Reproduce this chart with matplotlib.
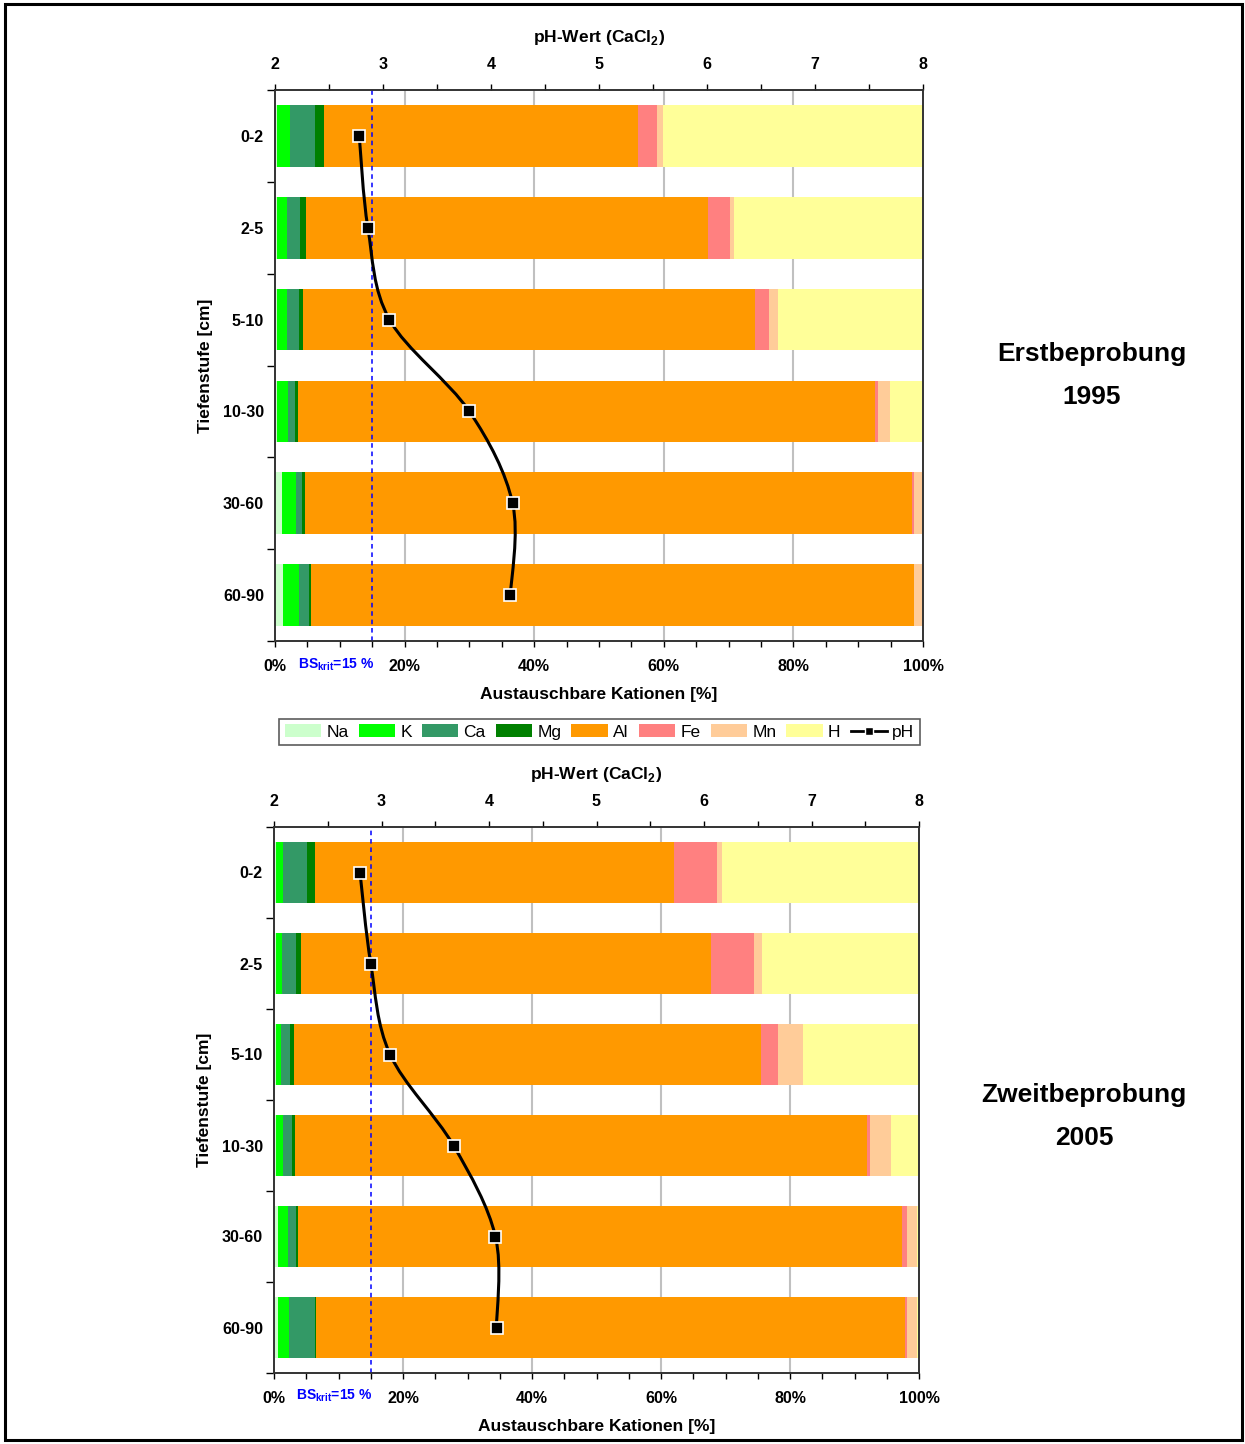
import matplotlib
matplotlib.use('Agg')
import matplotlib.pyplot as plt
from matplotlib.path import Path
from matplotlib.patches import PathPatch, Patch, Rectangle
from matplotlib.lines import Line2D
import numpy as np

plt.rcParams['font.family'] = ['Liberation Sans', 'DejaVu Sans']
plt.rcParams['mathtext.fontset'] = 'custom'
plt.rcParams['mathtext.rm'] = 'Liberation Sans'
plt.rcParams['mathtext.bf'] = 'Liberation Sans:bold'

# Tiefenstufen
depths = ['0-2', '2-5', '5-10', '10-30', '30-60', '60-90']
cations = ['Na', 'K', 'Ca', 'Mg', 'Al', 'Fe', 'Mn', 'H']
colors = ['#CCFFCC', '#00FF00', '#339966', '#008000', '#FF9900', '#FF8080', '#FFCC99', '#FFFF99']

# Erstbeprobung 1995 (% der Austauschkapazitaet)
na_95 = [0.3, 0.3, 0.3, 0.35, 1.1, 1.2]
k_95 = [2.0, 1.6, 1.6, 1.65, 2.15, 2.5]
ca_95 = [3.9, 2.0, 1.85, 1.1, 0.95, 1.55]
mg_95 = [1.4, 0.9, 0.6, 0.45, 0.45, 0.3]
al_95 = [48.4, 62.0, 69.8, 89.1, 93.7, 93.0]
fe_95 = [3.0, 3.4, 2.1, 0.4, 0.3, 0.05]
mn_95 = [0.9, 0.6, 1.4, 1.8, 1.35, 1.4]
h_95 = [40.1, 29.2, 22.35, 5.15, 0.0, 0.0]
ph_95 = [2.78, 2.86, 3.06, 3.80, 4.20, 4.18]

# Zweitbeprobung 2005
na_05 = [0.3, 0.3, 0.3, 0.3, 0.6, 0.6]
k_05 = [1.1, 0.95, 0.8, 1.1, 1.55, 1.7]
ca_05 = [3.7, 2.15, 1.4, 1.4, 1.25, 4.05]
mg_05 = [1.25, 0.8, 0.6, 0.45, 0.3, 0.15]
al_05 = [55.6, 63.55, 72.45, 88.75, 93.6, 91.4]
fe_05 = [6.7, 6.65, 2.6, 0.4, 0.8, 0.2]
mn_05 = [0.8, 1.3, 3.9, 3.3, 1.6, 1.6]
h_05 = [30.55, 24.3, 17.95, 4.3, 0.3, 0.3]
ph_05 = [2.80, 2.90, 3.08, 3.67, 4.06, 4.07]

bs_krit = 15

W, H = 1245, 1444
fig = plt.figure(figsize=(W/100, H/100), dpi=100)


def smooth_path(xs, ys, sx, sy):
 # catmull-rom -> bezier, in pixel-like scale
 px = np.array(xs)*sx
 py = np.array(ys)*sy
 n = len(px)
 verts = [(px[0], py[0])]
 codes = [Path.MOVETO]
 for i in range(n-1):
  i0 = max(i-1, 0)
  i3 = min(i+2, n-1)
  c1 = (px[i] + (px[i+1]-px[i0])/6.0, py[i] + (py[i+1]-py[i0])/6.0)
  c2 = (px[i+1] - (px[i3]-px[i])/6.0, py[i+1] - (py[i3]-py[i])/6.0)
  verts += [c1, c2, (px[i+1], py[i+1])]
  codes += [Path.CURVE4]*3
 verts = [(v[0]/sx, v[1]/sy) for v in verts]
 return Path(verts, codes)


def draw_panel(rect, series, ph, title1, title2, tx, ty, bs_off):
 ax = fig.add_axes(rect)
 y = np.arange(len(depths))
 left = np.zeros(len(depths))
 for vals, c in zip(series, colors):
  ax.barh(y, vals, left=left, height=0.67, color=c, edgecolor='none', zorder=2)
  left = left + np.array(vals)
 ax.set_xlim(0, 100)
 ax.set_ylim(len(depths)-0.5, -0.5)
 for g in [20, 40, 60, 80]:
  ax.axvline(g, color='#c0c0c0', lw=1.5, zorder=1)
 ax.axvline(bs_krit, color='#0000ff', lw=1.1, ls=(0, (3, 2.5)), zorder=3)
 ax.set_xticks([0, 20, 40, 60, 80, 100])
 ax.set_xticklabels(['0%', '20%', '40%', '60%', '80%', '100%'], fontweight='bold', fontsize=11.5)
 ax.set_xticks(np.arange(0, 101, 5), minor=True)
 ax.tick_params(axis='x', which='both', direction='out', length=4, width=1, pad=9)
 ax.set_yticks(np.arange(-0.5, len(depths), 1))
 ax.set_yticklabels([])
 ax.set_yticks(y, minor=True)
 ax.set_yticklabels(depths, minor=True, fontweight='bold', fontsize=11.5)
 ax.tick_params(axis='y', which='major', direction='out', length=6, width=1)
 ax.tick_params(axis='y', which='minor', length=0, pad=8)
 for s in ax.spines.values():
  s.set_linewidth(1.2)
  s.set_color('#333333')
 ax.set_xlabel('Austauschbare Kationen [%]', fontweight='bold', fontsize=12.5, labelpad=9)
 ax.set_ylabel('Tiefenstufe [cm]', fontweight='bold', fontsize=12.5, labelpad=7)
 ax.text(bs_krit+0.3, -bs_off, 'BS$_{\\mathbf{krit}}$=15 %', transform=ax.get_xaxis_transform(),
  ha='right', va='center', color='#0000ff', fontweight='bold', fontsize=10)

 # pH curve on top axis
 ax2 = ax.twiny()
 ax2.set_xlim(2, 8)
 ax2.set_xticks(np.arange(2, 9, 1))
 ax2.set_xticklabels([str(v) for v in range(2, 9)], fontweight='bold', fontsize=11.5)
 ax2.set_xticks(np.arange(2, 8.01, 0.5), minor=True)
 ax2.tick_params(axis='x', which='both', direction='out', length=4, width=1, pad=9)
 for s in ax2.spines.values():
  s.set_linewidth(1.2)
  s.set_color('#333333')
 ax2.set_xlabel('pH-Wert (CaCl$_{\\mathbf{2}}$)', fontweight='bold', fontsize=12.5, labelpad=11)
 path = smooth_path(ph, y, 108.0, 92.0)
 ax2.add_patch(PathPatch(path, facecolor='none', edgecolor='black', lw=2.2, zorder=5))
 ax2.plot(ph, y, ls='none', marker='s', ms=8, mfc='black', mec='white', mew=1.2, zorder=6)

 fig.text(tx/W, 1-ty/H, title1, ha='center', va='center', fontweight='bold', fontsize=19)
 fig.text(tx/W, 1-(ty+43)/H, title2, ha='center', va='center', fontweight='bold', fontsize=19)
 return ax


s95 = [na_95, k_95, ca_95, mg_95, al_95, fe_95, mn_95, h_95]
s05 = [na_05, k_05, ca_05, mg_05, al_05, fe_05, mn_05, h_05]

draw_panel([275/W, 1-641/H, 648/W, 551/H], s95, ph_95, 'Erstbeprobung', '1995', 1092, 354, 0.0436)
draw_panel([274/W, 1-1373/H, 645/W, 546/H], s05, ph_05, 'Zweitbeprobung', '2005', 1084, 1095, 0.042)

# legend between the panels
handles = [Patch(facecolor=c, edgecolor='none') for c in colors]
handles.append(Line2D([0], [0], color='black', lw=2, marker='s', ms=6, mfc='black', mec='white'))
leg = fig.legend(handles, cations + ['pH'], loc='center', bbox_to_anchor=(599.5/W, 1-732/H),
 ncol=9, fontsize=12.5, frameon=True, fancybox=False, handlelength=2.1, handleheight=0.75,
 handletextpad=0.3, columnspacing=0.58, borderpad=0.3, borderaxespad=0)
leg.get_frame().set_edgecolor('#333333')
leg.get_frame().set_linewidth(1.2)

# outer frame
fig.patches.append(Rectangle((5/W, 4/H), 1237/W, 1436/H, transform=fig.transFigure,
 fill=False, edgecolor='black', lw=2.2))

fig.savefig('out.png', dpi=100)
